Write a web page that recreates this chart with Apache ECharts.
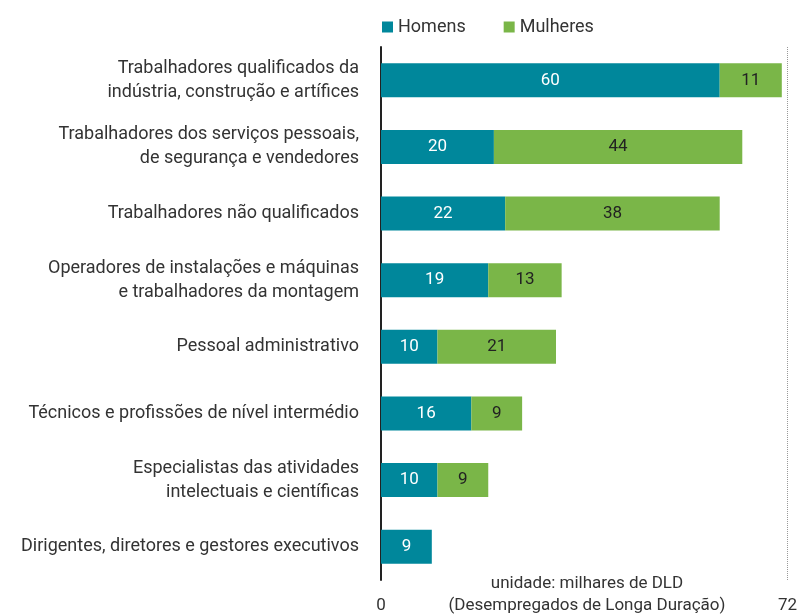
<!DOCTYPE html>
<html><head><meta charset="utf-8">
<script src="https://cdn.jsdelivr.net/npm/echarts@6/dist/echarts.min.js"></script>
<style>html,body{margin:0;padding:0;background:#fff}#c{width:800px;height:614px}</style>
</head><body><div id="c"></div>
<script>
const categories = [
  'Trabalhadores qualificados da\nindústria, construção e artífices',
  'Trabalhadores dos serviços pessoais,\nde segurança e vendedores',
  'Trabalhadores não qualificados',
  'Operadores de instalações e máquinas\ne trabalhadores da montagem',
  'Pessoal administrativo',
  'Técnicos e profissões de nível intermédio',
  'Especialistas das atividades\nintelectuais e científicas',
  'Dirigentes, diretores e gestores executivos'
];
const homens = [60, 20, 22, 19, 10, 16, 10, 9];
const mulheres = [11, 44, 38, 13, 21, 9, 9, null];
const xTicks = [0, 72];

const FONT = 'Roboto';
const chart = echarts.init(document.getElementById('c'), null, {renderer: 'canvas'});
chart.setOption({
  animation: false,
  textStyle: {fontFamily: FONT},
  legend: {
    top: 13, left: 377, itemWidth: 11, itemHeight: 11, itemGap: 38,
    icon: 'rect',
    textStyle: {fontSize: 18, color: '#333', fontFamily: FONT},
    data: ['Homens', 'Mulheres']
  },
  grid: {left: 381, right: 11, top: 47, bottom: 34, containLabel: false},
  xAxis: {
    type: 'value', min: xTicks[0], max: xTicks[1], interval: 72,
    axisLine: {show: false}, axisTick: {show: false},
    axisLabel: {fontSize: 17, color: '#333', margin: 17, fontFamily: FONT},
    splitLine: {show: true, lineStyle: {type: 'dotted', color: '#999', width: 1}}
  },
  yAxis: {
    type: 'category', inverse: true, data: categories,
    axisLine: {show: true, lineStyle: {color: '#222', width: 2}},
    axisTick: {show: false},
    axisLabel: {fontSize: 18, color: '#333', margin: 22, lineHeight: 24, fontFamily: FONT}
  },
  series: [
    {name: 'Homens', type: 'bar', stack: 't', data: homens, barWidth: 34,
     itemStyle: {color: '#00879b'},
     label: {show: true, position: 'inside', color: '#fff', fontSize: 17, fontFamily: FONT}},
    {name: 'Mulheres', type: 'bar', stack: 't', data: mulheres, barWidth: 34,
     itemStyle: {color: '#7ab648'},
     label: {show: true, position: 'inside', color: '#222', fontSize: 17, fontFamily: FONT}}
  ],
  graphic: [{
    type: 'text', x: 587, y: 573,
    style: {text: 'unidade: milhares de DLD\n(Desempregados de Longa Duração)',
      align: 'center', verticalAlign: 'top', fontSize: 17, lineHeight: 22, fill: '#333', fontFamily: FONT}
  }]
});
</script></body></html>
